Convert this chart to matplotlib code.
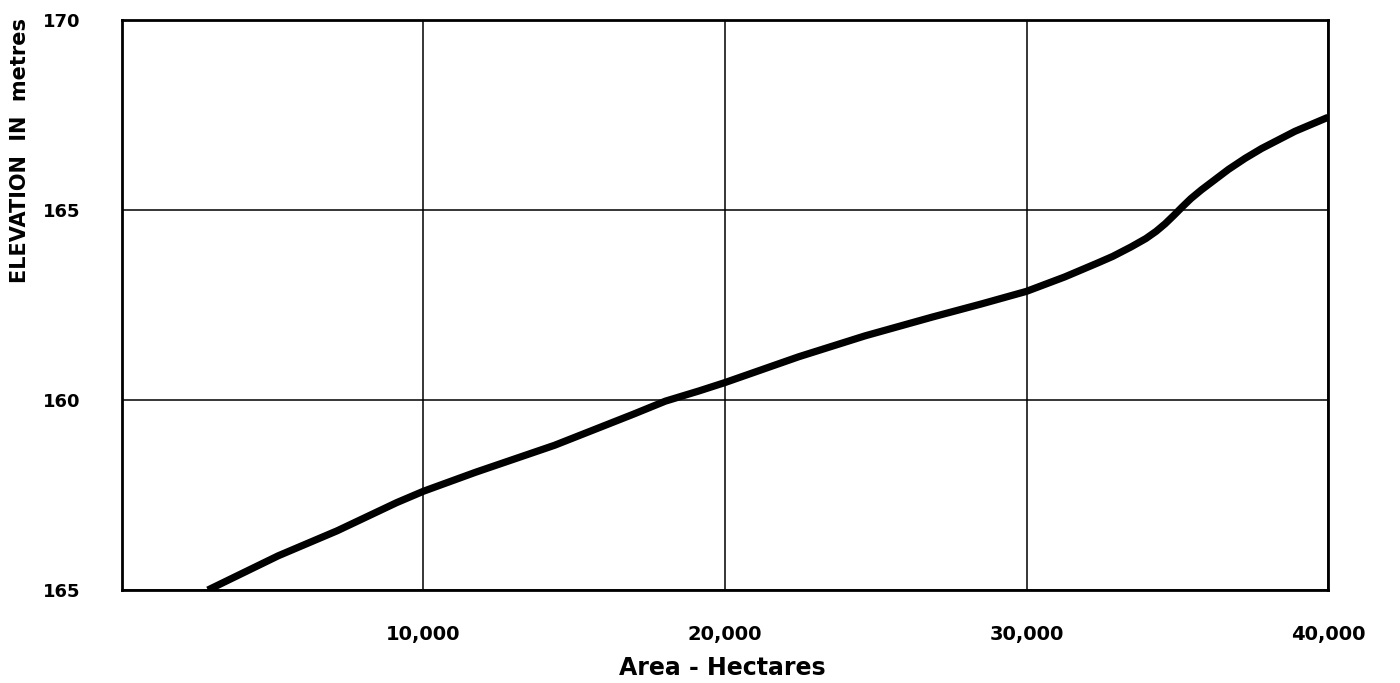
import numpy as np
import matplotlib
matplotlib.use("Agg")
from matplotlib import pyplot as plt

# valores (area em hectares, elevacao em metros)
area = [2850, 5180, 7140, 9110, 10000, 11730, 14350, 16970, 18020, 19140,
        20000, 22450, 24650, 26860, 28510, 30000, 31270, 32370, 32860, 33470,
        33960, 34300, 34600, 34900, 35150, 35450, 35800, 36200, 36700, 37250,
        37800, 38900, 40000]
elevation = [155.0, 155.9, 156.56, 157.3, 157.6, 158.1, 158.81, 159.63, 159.97, 160.24,
             160.46, 161.14, 161.69, 162.18, 162.53, 162.86, 163.24, 163.61, 163.78, 164.03,
             164.25, 164.44, 164.64, 164.87, 165.07, 165.3, 165.53, 165.77, 166.07, 166.36,
             166.62, 167.07, 167.44]

x_ticks = [10000, 20000, 30000, 40000]
x_labels = ["10,000", "20,000", "30,000", "40,000"]
y_ticks = [155, 160, 165, 170]
y_labels = ["165", "160", "165", "170"]  # como no original

fig = plt.figure(figsize=(14, 6.83), dpi=100)
ax = fig.add_axes([0.0871, 0.1361, 0.8615, 0.8346])

ax.plot(area, elevation, color="black", linewidth=5.2, solid_capstyle="butt",
        solid_joinstyle="round")

ax.set_xlim(0, 40000)
ax.set_ylim(155, 170)
ax.set_xticks(x_ticks)
ax.set_xticklabels(x_labels)
ax.set_yticks(y_ticks)
ax.set_yticklabels(y_labels)
ax.tick_params(length=0)
ax.tick_params(axis="x", pad=25, labelsize=14)
ax.tick_params(axis="y", pad=30, labelsize=13)
for lab in ax.get_xticklabels() + ax.get_yticklabels():
    lab.set_fontweight("bold")

ax.grid(True, color="black", linewidth=1.1)
for s in ax.spines.values():
    s.set_linewidth(2.0)
    s.set_color("black")

fig.text(0.0143, 0.78, "ELEVATION  IN  metres", rotation=90, ha="center", va="center",
         fontsize=15, fontweight="bold")
fig.text(0.516, 0.022, "Area - Hectares", ha="center", va="center",
         fontsize=17, fontweight="bold")

fig.savefig("out.png", dpi=100)
